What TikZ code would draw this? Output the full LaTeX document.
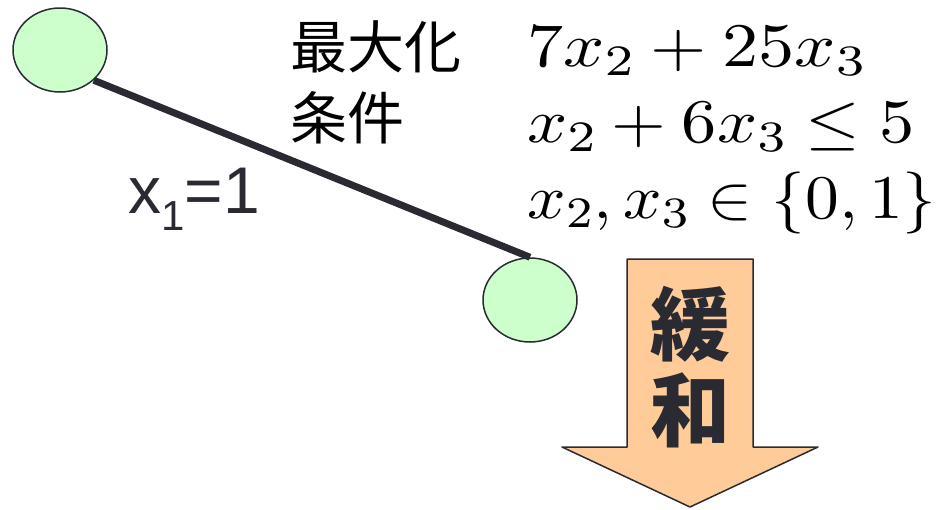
\documentclass[tikz,border=0pt]{standalone}
\usepackage{graphicx}
\usepackage[no-math]{fontspec}
\usetikzlibrary{shapes.geometric}
\newfontfamily\cjk{Noto Sans CJK JP}
\newfontfamily\arialfont{Liberation Sans}
% large math: cm fonts scaled freely
\DeclareFontShape{OT1}{cmr}{m}{n}{<-50>cmr7<50->cmr10}{}
\DeclareFontShape{OML}{cmm}{m}{it}{<-50>cmmi7<50->cmmi10}{}
\DeclareFontShape{OMS}{cmsy}{m}{n}{<-50>cmsy7<50->cmsy10}{}
\DeclareFontShape{OMX}{cmex}{m}{n}{<->cmex10}{}
\definecolor{ink}{RGB}{42,42,50}
\definecolor{leafgreen}{RGB}{204,255,204}
\definecolor{peach}{RGB}{255,204,153}
\newcommand{\widemath}[2]{\scalebox{#1}[1]{$#2$}}
\begin{document}
\begin{tikzpicture}[x=1pt,y=-1pt,line join=round,
  treenode/.style={ellipse,draw=ink,line width=1.5pt,fill=leafgreen,
    minimum width=94pt,minimum height=84pt,inner sep=0pt},
  mathrow/.style={anchor=base west,inner sep=0pt,text=black,font=\fontsize{62}{62}\selectfont},
  cjkrow/.style={anchor=base west,inner sep=0pt,text=black,font=\cjk\fontsize{57}{57}\selectfont}]
  \useasboundingbox (0,0) rectangle (942,509);
  \node[treenode] (root) at (60,50) {};
  \node[treenode] (child) at (530,300) {};
  \draw[ink,line width=7pt] (root.south east) -- (child.north);
  \node[anchor=base west,inner sep=0pt,text=ink,font=\arialfont\fontsize{66}{66}\selectfont]
    (branch) at (128,213) {x\raisebox{-17pt}{\fontsize{42}{42}\selectfont 1}=1};
  % subproblem
  \node[cjkrow] (maxword) at (290,68) {最大化};
  \node[cjkrow] (condword) at (290,139) {条件};
  \node[mathrow] (objrow) at (527,66) {\widemath{1.165}{7x_2+25x_3}};
  \node[mathrow] (consrow) at (527,142) {\widemath{1.135}{x_2+6x_3\le5}};
  \node[mathrow] (binrow) at (527,218) {\widemath{1.088}{x_2,x_3\in\{0,1\}}};
  % relaxation arrow
  \draw[ink,fill=peach,line width=1.5pt] (627,259) -- (753,259) -- (753,447) -- (818,447)
    -- (690,507) -- (562,447) -- (627,447) -- cycle;
  \node[align=center,inner sep=0pt,text=ink,font=\cjk\bfseries\fontsize{80}{86}\selectfont]
    (relax) at (690,367) {緩\\和};
\end{tikzpicture}
\end{document}
